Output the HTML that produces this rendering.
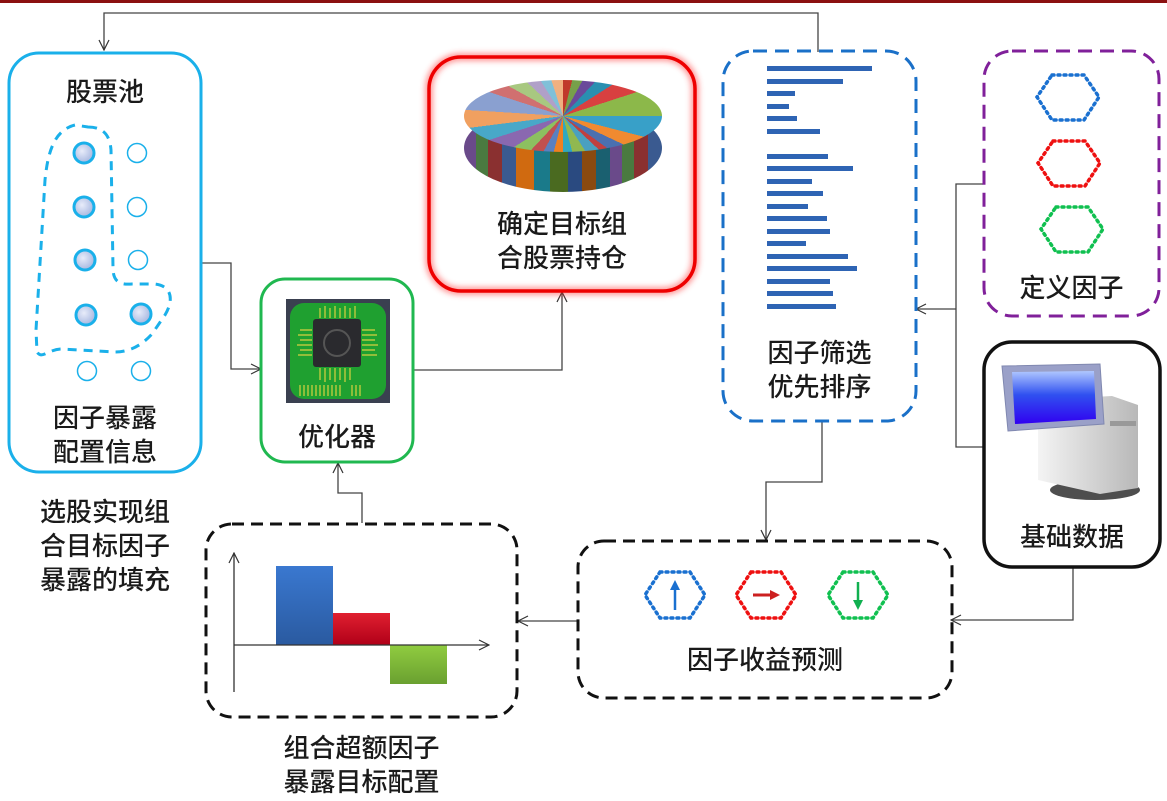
<!DOCTYPE html>
<html><head><meta charset="utf-8"><style>
html,body{margin:0;padding:0;background:#fff;}
#c{position:relative;width:1167px;height:801px;overflow:hidden;font-family:"Liberation Sans","Noto Sans CJK SC",sans-serif;}
.t{position:absolute;font-size:26px;color:#1a1a1a;text-align:center;line-height:34px;font-weight:500;white-space:nowrap;}
#pieTop{position:absolute;left:464px;top:80px;width:198px;height:72px;border-radius:50%;
background:conic-gradient(from 0deg,#c0392b 0 4%,#77a04a 4% 8%,#6a4a9a 8% 12%,#2a8fb0 12% 16%,#d84040 16% 20%,#8cb84a 20% 25%,#38a0c8 25% 29%,#f08a30 29% 32%,#4a70b0 32% 35%,#c04040 35% 37%,#4aa0c0 37% 41%,#90b850 41% 46%,#30a8c0 46% 50%,#f08020 50% 54%,#5a80c0 54% 58%,#c05050 58% 62%,#8cc060 62% 66%,#8a68b0 66% 70%,#48a8c8 70% 73%,#f0a060 73% 76%,#8aa0d0 76% 80%,#d07070 80% 83%,#a8c880 83% 87%,#b0a0c8 87% 91%,#80c0d8 91% 95%,#f0b080 95% 100%);z-index:2;}
#pieSide{position:absolute;left:464px;top:104px;width:198px;height:88px;border-radius:50%;
background:repeating-linear-gradient(90deg,#6a4a8a 0 12px,#4a7a40 12px 24px,#8a3030 24px 38px,#3a5a90 38px 52px,#d06a10 52px 70px,#1a7a8a 70px 86px,#4a6a20 86px 104px,#2a4a80 104px 118px,#8a4a10 118px 132px,#1a6070 132px 146px);z-index:1;}
</style></head><body><div id="c">
<svg width="1167" height="801" style="position:absolute;left:0;top:0">
<defs>
<marker id="a" markerWidth="12" markerHeight="12" refX="11" refY="6" orient="auto" markerUnits="userSpaceOnUse"><path d="M1,1 L11,6 L1,11" fill="none" stroke="#333" stroke-width="1.2"/></marker>
<filter id="glow"><feGaussianBlur stdDeviation="3"/></filter>
<linearGradient id="gb" x1="0" y1="0" x2="0" y2="1"><stop offset="0" stop-color="#3a78d0"/><stop offset="1" stop-color="#2a5aa0"/></linearGradient>
<linearGradient id="gr" x1="0" y1="0" x2="0" y2="1"><stop offset="0" stop-color="#e02030"/><stop offset="1" stop-color="#b00018"/></linearGradient>
<linearGradient id="gg" x1="0" y1="0" x2="0" y2="1"><stop offset="0" stop-color="#90cc40"/><stop offset="1" stop-color="#6aa030"/></linearGradient>
<radialGradient id="dot" cx="0.4" cy="0.4" r="0.6"><stop offset="0" stop-color="#e8ecfa"/><stop offset="1" stop-color="#a8b8e0"/></radialGradient>
<linearGradient id="scr" x1="0" y1="0" x2="0" y2="1"><stop offset="0" stop-color="#b0c8ff"/><stop offset="0.45" stop-color="#3050f0"/><stop offset="1" stop-color="#3000f0"/></linearGradient>
<linearGradient id="tw" x1="0" y1="0" x2="1" y2="0"><stop offset="0" stop-color="#f4f4f4"/><stop offset="1" stop-color="#b8b8b8"/></linearGradient>
</defs>
<rect x="0" y="0" width="1167" height="3" fill="#8b1010"/>
<g fill="none" stroke="#444" stroke-width="1.3">
<path d="M818,52 V13 H104 V50" marker-end="url(#a)"/>
<path d="M202,263 H231 V369 H261" marker-end="url(#a)"/>
<path d="M414,370 H562 V292" marker-end="url(#a)"/>
<path d="M983,184 H956 V447 H983"/>
<path d="M956,309 H916" marker-end="url(#a)"/>
<path d="M1073,568 V620 H951" marker-end="url(#a)"/>
<path d="M577,621 H518" marker-end="url(#a)"/>
<path d="M362,523 V493 H338 V463" marker-end="url(#a)"/>
<path d="M822,422 V482 H766 V540" marker-end="url(#a)"/>
</g>
<rect x="9" y="53" width="192" height="419" rx="30" fill="none" stroke="#1ab0ea" stroke-width="3"/>
<path d="M88,127 C104,127 110,136 111,150 L113,268 C113,282 120,285 132,284 L155,284 C172,286 174,300 165,315 L152,334 C142,345 130,352 115,352 L62,349 C48,349 42,360 37,352 L36,330 L45,180 C48,150 55,130 75,125 Z" fill="none" stroke="#1ab0ea" stroke-width="3" stroke-dasharray="9,7"/>
<g stroke="#1ab0ea" stroke-width="3" fill="url(#dot)">
<circle cx="84" cy="153" r="10"/><circle cx="84" cy="207" r="10"/><circle cx="85" cy="260" r="10"/><circle cx="86" cy="315" r="10"/><circle cx="141" cy="314" r="10"/>
</g>
<g stroke="#1ab0ea" stroke-width="1.5" fill="none">
<circle cx="137" cy="153" r="9.5"/><circle cx="137" cy="207" r="9.5"/><circle cx="138" cy="260" r="9.5"/><circle cx="87" cy="371" r="9.5"/><circle cx="141" cy="371" r="9.5"/>
</g>
<rect x="261" y="279" width="152" height="183" rx="24" fill="none" stroke="#20b850" stroke-width="3"/>
<rect x="286" y="299" width="104" height="104" fill="#3a4050"/>
<rect x="290" y="303" width="96" height="96" rx="14" fill="#1fa030"/>
<g stroke="#d8d040" stroke-width="1.2">
<path d="M300,385 V396 M304,385 V396 M308,385 V396 M312,385 V396 M316,385 V396 M320,385 V396 M324,385 V396 M328,385 V396 M332,385 V396 M336,385 V396 M340,385 V396 M352,385 V396 M356,385 V396 M360,385 V396"/>
<path d="M312,330 H300 M312,335 H298 M312,340 H300 M312,345 H297 M312,350 H300 M312,355 H298 M362,330 H375 M362,335 H377 M362,340 H375 M362,345 H378 M362,350 H375 M362,355 H377 M320,318 V308 M325,318 V306 M330,318 V308 M335,318 V306 M340,318 V308 M345,318 V306 M350,318 V308 M355,318 V306 M320,368 V380 M325,368 V382 M330,368 V380 M335,368 V382 M340,368 V380 M345,368 V382 M350,368 V380"/>
</g>
<rect x="313" y="319" width="48" height="48" rx="3" fill="#2a2a2e"/>
<circle cx="337" cy="343" r="13" fill="none" stroke="#555" stroke-width="2"/>
<rect x="429" y="57" width="266" height="234" rx="32" fill="none" stroke="#ff3030" stroke-width="8" opacity="0.5" filter="url(#glow)"/>
<rect x="429" y="57" width="266" height="234" rx="32" fill="none" stroke="#ee0000" stroke-width="3.5"/>
<rect x="723" y="51" width="193" height="370" rx="30" fill="none" stroke="#1a70c8" stroke-width="3" stroke-dasharray="14,8"/>
<g fill="#2e64b4">
<rect x="767" y="66" width="105" height="5"/><rect x="767" y="79" width="76" height="5"/><rect x="767" y="91" width="28" height="5"/><rect x="767" y="104" width="22" height="5"/><rect x="767" y="116" width="30" height="5"/><rect x="767" y="129" width="53" height="5"/>
<rect x="767" y="154" width="61" height="5"/><rect x="767" y="166" width="86" height="5"/><rect x="767" y="179" width="45" height="5"/><rect x="767" y="191" width="56" height="5"/><rect x="767" y="204" width="41" height="5"/><rect x="767" y="216" width="60" height="5"/><rect x="767" y="229" width="63" height="5"/><rect x="767" y="241" width="39" height="5"/><rect x="767" y="254" width="81" height="5"/><rect x="767" y="266" width="90" height="5"/><rect x="767" y="279" width="63" height="5"/><rect x="767" y="291" width="66" height="5"/><rect x="767" y="304" width="69" height="5"/>
</g>
<rect x="984" y="51" width="175" height="265" rx="28" fill="none" stroke="#80209a" stroke-width="3" stroke-dasharray="14,8"/>
<g fill="none" stroke-width="3.5" stroke-dasharray="2,4" stroke-linecap="round">
<path d="M1052,75 H1084 L1099,97 L1084,120 H1052 L1037,97 Z" stroke="#1a70d0"/>
<path d="M1053,141 H1085 L1100,163 L1085,186 H1053 L1038,163 Z" stroke="#ee1010"/>
<path d="M1056,207 H1088 L1103,229 L1088,252 H1056 L1041,229 Z" stroke="#10c050"/>
</g>
<rect x="984" y="342" width="176" height="225" rx="28" fill="none" stroke="#111" stroke-width="3.5"/>
<ellipse cx="1095" cy="490" rx="45" ry="10" fill="#222" opacity="0.8"/>
<path d="M1038,400 L1112,396 L1138,405 L1138,488 L1100,494 L1038,480 Z" fill="url(#tw)"/>
<rect x="1110" y="421" width="26" height="5" fill="#999"/>
<path d="M1002,366 L1100,364 L1104,424 L1008,431 Z" fill="#9aa0c8" stroke="#8088b0"/>
<path d="M1012,372 L1094,371 L1096,419 L1015,424 Z" fill="url(#scr)"/>
<rect x="578" y="541" width="374" height="157" rx="26" fill="none" stroke="#111" stroke-width="3" stroke-dasharray="12,7"/>
<g fill="none" stroke-width="3.5" stroke-dasharray="2,4" stroke-linecap="round">
<path d="M660,572 H690 L705,595 L690,618 H660 L645,595 Z" stroke="#1a70d0"/>
<path d="M751,572 H781 L796,595 L781,618 H751 L736,595 Z" stroke="#ee1010"/>
<path d="M843,572 H873 L888,595 L873,618 H843 L828,595 Z" stroke="#10c050"/>
</g>
<path d="M675,610 V586" stroke="#1a70d0" stroke-width="2.5"/><path d="M670,590 L675,580 L680,590 Z" fill="#1a70d0"/>
<path d="M753,595 H772" stroke="#cc2020" stroke-width="3"/><path d="M770,590 L780,595 L770,600 Z" fill="#cc2020"/>
<path d="M858,582 V604" stroke="#10b050" stroke-width="2.5"/><path d="M853,600 L858,610 L863,600 Z" fill="#10b050"/>
<rect x="206" y="524" width="311" height="193" rx="26" fill="none" stroke="#111" stroke-width="3" stroke-dasharray="12,7"/>
<rect x="276" y="566" width="57" height="79" fill="url(#gb)"/>
<rect x="333" y="613" width="57" height="32" fill="url(#gr)"/>
<rect x="390" y="645" width="57" height="39" fill="url(#gg)"/>
<g stroke="#333" stroke-width="1.3" fill="none">
<path d="M234,692 V553" marker-end="url(#a)"/>
<path d="M234,645 H489" marker-end="url(#a)"/>
</g>
</svg>
<div id="pieSide"></div><div id="pieTop"></div>
<div class="t" style="left:9px;top:75px;width:192px;">股票池</div>
<div class="t" style="left:9px;top:401px;width:192px;">因子暴露<br>配置信息</div>
<div class="t" style="left:261px;top:420px;width:152px;">优化器</div>
<div class="t" style="left:429px;top:207px;width:266px;">确定目标组<br>合股票持仓</div>
<div class="t" style="left:723px;top:336px;width:193px;">因子筛选<br>优先排序</div>
<div class="t" style="left:984px;top:271px;width:175px;">定义因子</div>
<div class="t" style="left:984px;top:520px;width:176px;">基础数据</div>
<div class="t" style="left:578px;top:643px;width:374px;">因子收益预测</div>
<div class="t" style="left:206px;top:731px;width:311px;">组合超额因子<br>暴露目标配置</div>
<div class="t" style="left:15px;top:495px;width:180px;">选股实现组<br>合目标因子<br>暴露的填充</div>
</div></body></html>
